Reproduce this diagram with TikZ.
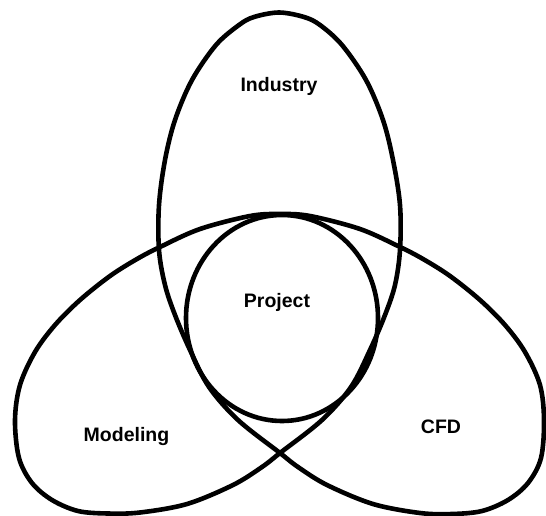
\documentclass[tikz,border=0pt]{standalone}
\usepackage{fontspec}
\newfontfamily\labfont{Liberation Sans}
\tikzset{
  lobe/.style={draw=black, line width=4.6pt, line join=round},
  label/.style={font=\labfont\bfseries\fontsize{19.5}{23}\selectfont, inner sep=0pt, anchor=base},
}
\begin{document}
\begin{tikzpicture}[x=1pt,y=-1pt]
\useasboundingbox (0,0) rectangle (546,516);
% trefoil-like closed curve (Industry, CFD, Modeling lobes)
\draw[lobe] plot[smooth cycle, tension=0.55] coordinates {
  (279,12.5) (254,17) (239,25) (216,45) (192,80) (175,120) (165,160) (159,205) (159,250) (165,285) (175,315) (190,350) (209,387) (238,420) (280,453)
  (298,467) (327,485) (373,504) (420,513) (452,514) (482,511) (508,500) (528,483) (541,458) (544,420) (540,385) (525,352) (505,325) (480,300) (450,276) (423,259) (400,247) (360,229) (310,216)
  (280,214)
  (250,216) (200,229) (160,247) (137,259) (110,276) (80,300) (55,325) (35,352) (20,385) (15,420) (19,458) (32,483) (52,500) (78,511) (108,513.5) (140,512.5) (187,504) (233,485) (262,467)
  (280,453)
  (322,420) (351,387) (370,350) (385,315) (395,285) (400,250) (400,205) (393,160) (383,120) (366,80) (342,45) (320,25) (304,17)
};
% Project circle
\draw[lobe] (282,318) ellipse [x radius=96, y radius=103];
\node[label] (industry) at (279,91.5) {Industry};
\node[label] (project) at (277,307) {Project};
\node[label] (modeling) at (126.5,441.5) {Modeling};
\node[label] (cfd) at (441,433) {CFD};
\end{tikzpicture}
\end{document}
